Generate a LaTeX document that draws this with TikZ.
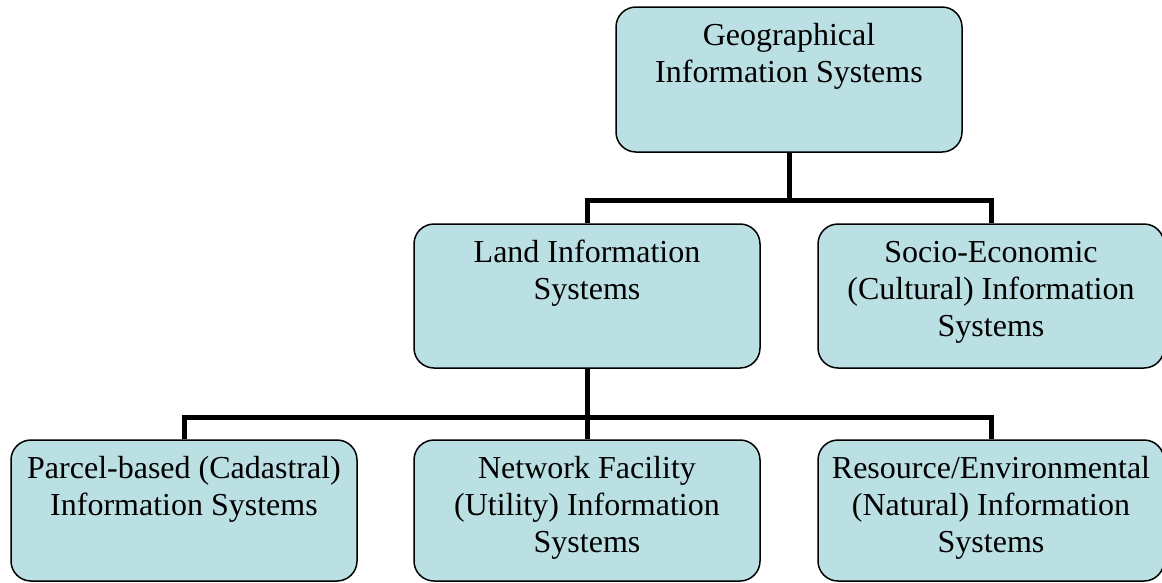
\documentclass[tikz,border=0pt]{standalone}
\usepackage{fontspec}
\setmainfont{Liberation Serif}
\definecolor{boxfill}{RGB}{187,224,227}
\begin{document}
\begin{tikzpicture}[x=1pt,y=-1pt,
  box/.style={draw=black, line width=1.5pt, fill=boxfill, rounded corners=20pt,
    inner xsep=4pt, inner ysep=13pt, font=\fontsize{32}{37}\selectfont},
  conn/.style={draw=black, line width=5pt}]
\useasboundingbox (0,0) rectangle (1162,582);
\newcommand{\boxtext}[2]{\parbox[t][#1][t]{338pt}{\centering\strut #2}}
\node[box] (gis) at (789,79.5) {\boxtext{119pt}{Geographical\\Information Systems}};
\node[box] (lis) at (587,296) {\boxtext{118pt}{Land Information\\Systems}};
\node[box] (seis) at (991,296) {\boxtext{118pt}{Socio-Economic\\(Cultural) Information\\Systems}};
\node[box] (pis) at (184,510.5) {\boxtext{115pt}{Parcel-based (Cadastral)\\Information Systems}};
\node[box] (nis) at (587,510.5) {\boxtext{115pt}{Network Facility\\(Utility) Information\\Systems}};
\node[box] (ris) at (991,510.5) {\boxtext{115pt}{Resource/Environmental\\(Natural) Information\\Systems}};
\coordinate (j1) at (789,200);
\coordinate (j2) at (587,417);
\draw[conn] (gis.south) -- (j1);
\draw[conn] (lis.north) |- (j1) -| (seis.north);
\draw[conn] (lis.south) -- (nis.north);
\draw[conn] (pis.north) |- (j2) -| (ris.north);
\end{tikzpicture}
\end{document}
